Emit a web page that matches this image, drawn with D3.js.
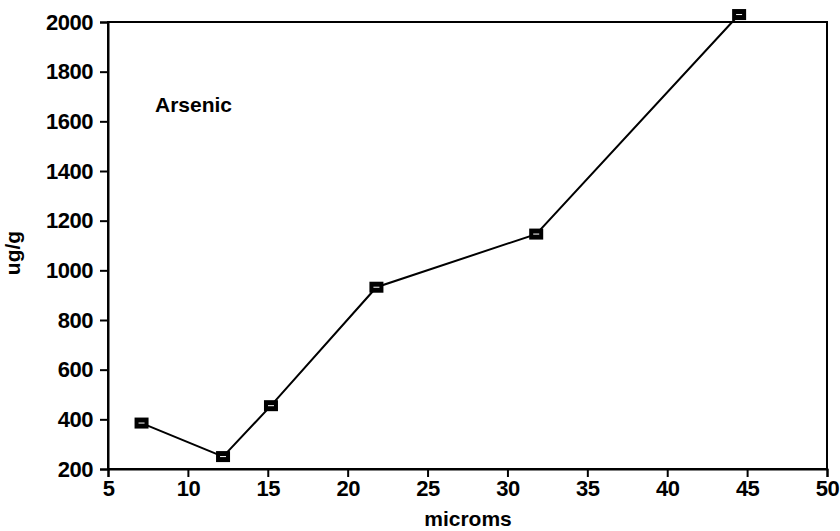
<!DOCTYPE html>
<html>
<head>
<meta charset="utf-8">
<script src="https://cdn.jsdelivr.net/npm/d3@7"></script>
<style>
  body { margin: 0; background: #fff; }
  svg text { font-family: "Liberation Sans", Arial, sans-serif; fill: #000; }
</style>
</head>
<body>
<script>
// values
var microms = [7.1, 12.2, 15.2, 21.8, 31.8, 44.5];
var ugPerG = [385, 250, 455, 932, 1146, 2030];
var xTicks = [5, 10, 15, 20, 25, 30, 35, 40, 45, 50];
var yTicks = [200, 400, 600, 800, 1000, 1200, 1400, 1600, 1800, 2000];
var seriesLabel = "Arsenic";

var width = 840, height = 531;
var margin = {top: 22, right: 13, bottom: 62, left: 108};

var svg = d3.select("body").append("svg")
    .attr("width", width)
    .attr("height", height);

var x = d3.scaleLinear().domain([5, 50]).range([margin.left, width - margin.right]);
var y = d3.scaleLinear().domain([200, 2000]).range([height - margin.bottom, margin.top]);

// frame
svg.append("rect")
    .attr("x", x(5)).attr("y", y(2000))
    .attr("width", x(50) - x(5)).attr("height", y(200) - y(2000))
    .attr("fill", "none").attr("stroke", "#000").attr("stroke-width", 2);

var xAxis = svg.append("g")
    .attr("transform", "translate(0," + y(200) + ")")
    .call(d3.axisBottom(x).tickValues(xTicks).tickSize(8).tickPadding(3).tickFormat(d3.format("d")));
var yAxis = svg.append("g")
    .attr("transform", "translate(" + x(5) + ",0)")
    .call(d3.axisLeft(y).tickValues(yTicks).tickSize(8).tickPadding(7).tickFormat(d3.format("d")));

[xAxis, yAxis].forEach(function (g) {
    g.select(".domain").attr("stroke-width", 2);
    g.selectAll(".tick line").attr("stroke-width", 2);
    g.selectAll(".tick text")
        .attr("font-size", 22)
        .attr("font-weight", "bold")
        .attr("letter-spacing", "-0.5px")
        .style("font-family", "'Liberation Sans', Arial, sans-serif");
});

// the line
var line = d3.line()
    .x(function (d, i) { return x(microms[i]); })
    .y(function (d) { return y(d); });

svg.append("path")
    .datum(ugPerG)
    .attr("d", line)
    .attr("fill", "none")
    .attr("stroke", "#000")
    .attr("stroke-width", 2);

// filled square markers with a thin white dash inside
var mk = svg.selectAll(".mk")
    .data(ugPerG)
    .enter().append("g")
    .attr("class", "mk")
    .attr("transform", function (d, i) { return "translate(" + x(microms[i]) + "," + y(d) + ")"; });
mk.append("rect")
    .attr("x", -7).attr("y", -5.5)
    .attr("width", 14).attr("height", 11)
    .attr("fill", "#000");
mk.append("line")
    .attr("x1", -3).attr("x2", 3)
    .attr("y1", 0).attr("y2", 0)
    .attr("stroke", "#fff").attr("stroke-width", 1);

// series label inside the plot
svg.append("text")
    .attr("x", 155).attr("y", 112)
    .attr("font-size", 21)
    .attr("font-weight", "bold")
    .text(seriesLabel);

// axis titles
svg.append("text")
    .attr("x", 468).attr("y", 526)
    .attr("text-anchor", "middle")
    .attr("font-size", 21)
    .attr("font-weight", "bold")
    .text("microms");

svg.append("text")
    .attr("transform", "translate(20,253) rotate(-90)")
    .attr("text-anchor", "middle")
    .attr("font-size", 21)
    .attr("font-weight", "bold")
    .text("ug/g");
</script>
</body>
</html>
